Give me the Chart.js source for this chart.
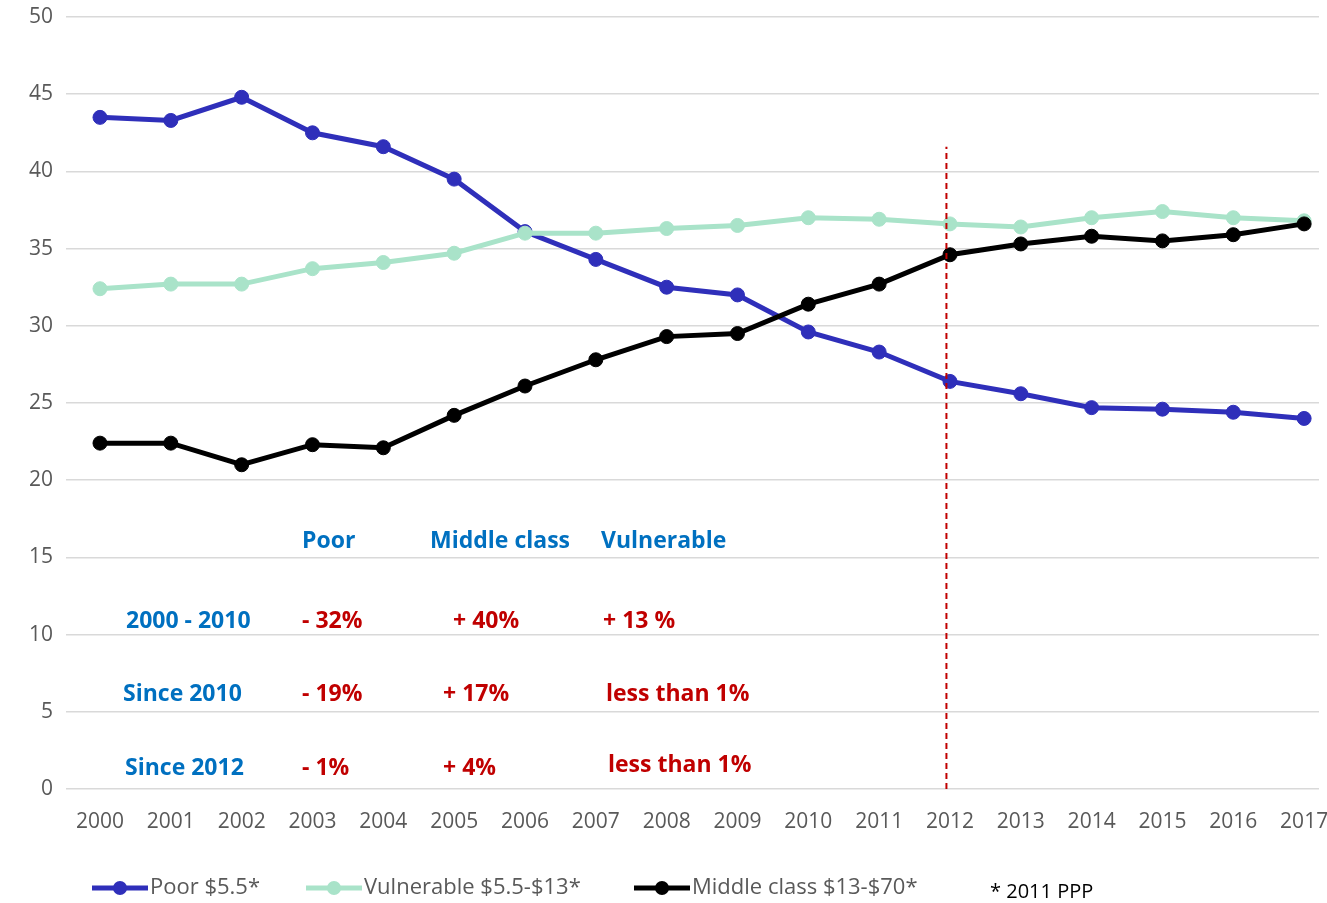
<!DOCTYPE html>
<html>
<head>
<meta charset="utf-8">
<title>Poor, vulnerable and middle class 2000-2017</title>
<script src="https://cdn.jsdelivr.net/npm/chart.js@4"></script>
<style>
    body { margin: 0; background: #fff; }
    #wrap { width: 1327px; height: 903px; }
</style>
</head>
<body>
<div id="wrap"><canvas id="grafico" width="1327" height="903"></canvas></div>
<script>
// Dados
const anos = [2000, 2001, 2002, 2003, 2004, 2005, 2006, 2007, 2008, 2009, 2010, 2011, 2012, 2013, 2014, 2015, 2016, 2017];
const poor = [43.5, 43.3, 44.8, 42.5, 41.6, 39.5, 36.1, 34.3, 32.5, 32.0, 29.6, 28.3, 26.4, 25.6, 24.7, 24.6, 24.4, 24.0];
const vulnerable = [32.4, 32.7, 32.7, 33.7, 34.1, 34.7, 36.0, 36.0, 36.3, 36.5, 37.0, 36.9, 36.6, 36.4, 37.0, 37.4, 37.0, 36.8];
const middle = [22.4, 22.4, 21.0, 22.3, 22.1, 24.2, 26.1, 27.8, 29.3, 29.5, 31.4, 32.7, 34.6, 35.3, 35.8, 35.5, 35.9, 36.6];
const yTicks = [0, 5, 10, 15, 20, 25, 30, 35, 40, 45, 50];

// Linha vertical (2012)
const marcoX = [2011.95, 2011.95];
const marcoY = [0, 41.6];

// Tabela de variações
const cabecalhos = ['Poor', 'Middle class', 'Vulnerable'];
const periodos = ['2000 - 2010', 'Since 2010', 'Since 2012'];
const variacoes = [
    ['- 32%', '+ 40%', '+ 13 %'],
    ['- 19%', '+ 17%', 'less than 1%'],
    ['- 1%', '+ 4%', 'less than 1%']
];

const legendas = ['Poor $5.5*', 'Vulnerable $5.5-$13*', 'Middle class $13-$70*'];
const nota = '* 2011 PPP';

const AZUL = '#2f2fba';
const VERDE = '#a9e3c9';
const PRETO = '#000000';
const VERMELHO = '#c00000';
const AZUL_TXT = '#0070c0';
const CINZA = '#595959';
const FONTE = '"Open Sans", "DejaVu Sans", sans-serif';

function pontos(valores) {
    return anos.map((a, i) => ({ x: a, y: valores[i] }));
}

function serie(label, valores, cor) {
    return {
        label: label,
        data: pontos(valores),
        borderColor: cor,
        backgroundColor: cor,
        pointBackgroundColor: cor,
        pointBorderColor: cor,
        borderWidth: 5,
        pointRadius: 7,
        pointHoverRadius: 7,
        pointBorderWidth: 1
    };
}

// Textos e legenda desenhados por cima
const textosPlugin = {
    id: 'textos',
    afterDraw(chart) {
        const ctx = chart.ctx;
        ctx.save();
        ctx.textBaseline = 'middle';
        ctx.textAlign = 'left';
        ctx.font = 'bold 23px ' + FONTE;

        // cabeçalhos
        const colX = [302, 430, 601];
        ctx.fillStyle = AZUL_TXT;
        cabecalhos.forEach((t, i) => ctx.fillText(t, colX[i], 541));

        // linhas
        const linhaY = [621, 694, 768];
        const periodoX = [126, 123, 125];
        const valorX = [
            [302, 453, 603],
            [302, 443, 606],
            [302, 443, 608]
        ];
        const valorDy = [[0, 0, 0], [0, 0, 0], [0, 0, -3]];
        periodos.forEach((p, r) => {
            ctx.fillStyle = AZUL_TXT;
            ctx.fillText(p, periodoX[r], linhaY[r]);
            ctx.fillStyle = VERMELHO;
            variacoes[r].forEach((v, c) => ctx.fillText(v, valorX[r][c], linhaY[r] + valorDy[r][c]));
        });

        // legenda
        const cores = [AZUL, VERDE, PRETO];
        const legX = [92, 306, 634];
        const ly = 888;
        ctx.font = '22px ' + FONTE;
        legendas.forEach((t, i) => {
            ctx.strokeStyle = cores[i];
            ctx.fillStyle = cores[i];
            ctx.lineWidth = 5;
            ctx.beginPath();
            ctx.moveTo(legX[i], ly);
            ctx.lineTo(legX[i] + 56, ly);
            ctx.stroke();
            ctx.beginPath();
            ctx.arc(legX[i] + 28, ly, 7, 0, Math.PI * 2);
            ctx.fill();
            ctx.fillStyle = CINZA;
            ctx.fillText(t, legX[i] + 58, ly);
        });
        ctx.fillStyle = '#000';
        ctx.font = '20px ' + FONTE;
        ctx.fillText(nota, 990, 892);
        ctx.restore();
    }
};

document.addEventListener('DOMContentLoaded', function() {
    const ctx = document.getElementById('grafico').getContext('2d');

    const marco = {
        label: 'marco',
        data: marcoX.map((x, i) => ({ x: x, y: marcoY[i] })),
        borderColor: VERMELHO,
        borderWidth: 2,
        borderDash: [6, 4],
        pointRadius: 0,
        pointHoverRadius: 0
    };

    new Chart(ctx, {
        type: 'line',
        data: {
            // ordem de desenho: o primeiro fica por cima
            datasets: [
                marco,
                serie(legendas[2], middle, PRETO),
                serie(legendas[1], vulnerable, VERDE),
                serie(legendas[0], poor, AZUL)
            ]
        },
        options: {
            responsive: false,
            animation: false,
            events: [],
            layout: { padding: { top: 17, right: 7, left: 0, bottom: 0 } },
            plugins: {
                legend: { display: false },
                tooltip: { enabled: false }
            },
            scales: {
                x: {
                    type: 'linear',
                    min: 1999.52,
                    max: 2017.21,
                    grid: { display: false, drawTicks: false },
                    border: { display: false },
                    afterBuildTicks: scale => { scale.ticks = anos.map(a => ({ value: a })); },
                    afterFit: scale => {
                        scale.height = 114;
                        scale.paddingLeft = 0;
                        scale.paddingRight = 0;
                    },
                    ticks: {
                        autoSkip: false,
                        maxRotation: 0,
                        padding: 20,
                        color: CINZA,
                        font: { family: FONTE, size: 21 },
                        callback: v => String(v)
                    }
                },
                y: {
                    min: 0,
                    max: 50,
                    afterBuildTicks: scale => { scale.ticks = yTicks.map(v => ({ value: v })); },
                    afterFit: scale => {
                        scale.width = 66;
                        scale.paddingTop = 0;
                        scale.paddingBottom = 0;
                    },
                    grid: { color: '#d9d9d9', lineWidth: 1.5, drawTicks: false },
                    border: { display: false },
                    ticks: {
                        padding: 13,
                        color: CINZA,
                        font: { family: FONTE, size: 21 }
                    }
                }
            }
        },
        plugins: [textosPlugin]
    });
});
</script>
</body>
</html>
